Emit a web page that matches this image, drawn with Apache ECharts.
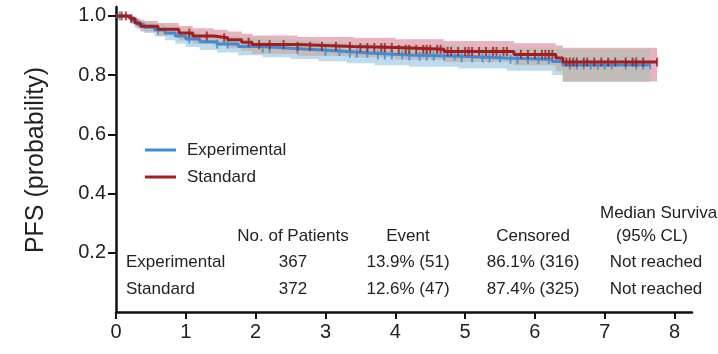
<!DOCTYPE html>
<html>
<head>
<meta charset="utf-8">
<script src="https://cdn.jsdelivr.net/npm/echarts@6/dist/echarts.min.js"></script>
<style>
  html, body { margin: 0; padding: 0; background: #fff; }
  #chart { width: 718px; height: 354px; }
</style>
</head>
<body>
<div id="chart"></div>
<script>
// Kaplan-Meier step points: time (years), survival, 95% CI lower / upper
const expTimes = [0, 0.15, 0.22, 0.30, 0.40, 0.55, 0.70, 0.85, 1.00, 1.20, 1.45, 1.75, 2.10, 2.50, 2.90, 3.30, 3.70, 4.20, 4.90, 5.60, 6.25, 6.40];
const expSurv  = [1.000, 0.995, 0.985, 0.972, 0.962, 0.952, 0.942, 0.932, 0.922, 0.913, 0.905, 0.897, 0.891, 0.886, 0.880, 0.874, 0.868, 0.864, 0.858, 0.853, 0.846, 0.834];
const expLower = [1.000, 0.988, 0.973, 0.955, 0.942, 0.930, 0.918, 0.906, 0.895, 0.885, 0.876, 0.867, 0.860, 0.854, 0.847, 0.840, 0.833, 0.828, 0.822, 0.815, 0.800, 0.778];
const expUpper = [1.000, 1.000, 0.997, 0.988, 0.980, 0.972, 0.964, 0.956, 0.948, 0.940, 0.933, 0.926, 0.921, 0.917, 0.912, 0.907, 0.902, 0.899, 0.894, 0.890, 0.888, 0.886];
const expEnd = 7.65;
const expCensor = [0.05, 0.6, 1.05, 1.45, 1.6, 2.1, 2.2, 2.6, 3.0, 3.2, 3.35, 3.45, 3.6, 3.75, 3.85, 3.95, 4.1, 4.2, 4.35, 4.45, 4.55, 4.7, 4.85, 4.95, 5.1, 5.25, 5.35, 5.5, 5.65, 5.75, 5.9, 6.05, 6.2, 6.5, 6.6, 6.7, 6.8, 6.9, 7.0, 7.1, 7.3, 7.45, 7.55, 7.65];

const stdTimes = [0, 0.20, 0.27, 0.35, 0.60, 0.90, 1.10, 1.40, 1.60, 1.80, 1.95, 2.60, 3.40, 4.00, 4.70, 5.70, 6.30, 6.40];
const stdSurv  = [1.000, 0.991, 0.976, 0.965, 0.955, 0.942, 0.932, 0.926, 0.919, 0.911, 0.903, 0.897, 0.893, 0.887, 0.880, 0.870, 0.858, 0.844];
const stdLower = [1.000, 0.981, 0.961, 0.947, 0.934, 0.918, 0.906, 0.899, 0.891, 0.882, 0.872, 0.865, 0.860, 0.853, 0.845, 0.833, 0.815, 0.778];
const stdUpper = [1.000, 1.000, 0.991, 0.983, 0.976, 0.966, 0.958, 0.953, 0.947, 0.940, 0.934, 0.929, 0.926, 0.921, 0.915, 0.908, 0.900, 0.892];
const stdEnd = 7.75;
const stdCensor = [0.08, 0.14, 0.22, 1.05, 1.3, 1.55, 1.9, 2.05, 2.2, 2.4, 2.6, 2.78, 2.95, 3.15, 3.35, 3.5, 3.6, 3.7, 3.8, 3.85, 3.95, 4.05, 4.15, 4.2, 4.3, 4.4, 4.45, 4.5, 4.6, 4.65, 4.75, 4.8, 4.9, 5.0, 5.05, 5.1, 5.2, 5.3, 5.4, 5.45, 5.55, 5.6, 5.8, 5.9, 6.0, 6.1, 6.15, 6.2, 6.25, 6.45, 6.5, 6.55, 6.6, 6.7, 6.75, 6.85, 6.95, 7.05, 7.15, 7.3, 7.4, 7.45, 7.55, 7.75];

const xTicks = [0, 1, 2, 3, 4, 5, 6, 7, 8];
const yTicks = [0.2, 0.4, 0.6, 0.8, 1.0];

// Summary table
const tableHeaders = ['No. of Patients', 'Event', 'Censored'];
const groupNames = ['Experimental', 'Standard'];
const patients = ['367', '372'];
const events = ['13.9% (51)', '12.6% (47)'];
const censored = ['86.1% (316)', '87.4% (325)'];
const medians = ['Not reached', 'Not reached'];

const BLUE = '#3f8bd6';
const RED = '#a31d1f';
const BLUE_BAND = '#bcdcee';
const RED_BAND = '#e6b3c1';
const OVERLAP = '#c1bcb6';
const FONT = '"Liberation Sans", Arial, Helvetica, sans-serif';

function valueAt(times, vals, t) {
  let v = vals[0];
  for (let i = 0; i < times.length; i++) { if (times[i] <= t) v = vals[i]; }
  return v;
}

function stepLine(times, vals, end) {
  const d = times.map((t, i) => [t, vals[i]]);
  d.push([end, vals[vals.length - 1]]);
  return d;
}

// Overlap of the two confidence bands on the union of breakpoints
const unionTimes = Array.from(new Set(expTimes.concat(stdTimes))).sort((a, b) => a - b);
const ovLower = unionTimes.map(t => Math.max(valueAt(expTimes, expLower, t), valueAt(stdTimes, stdLower, t)));
const ovUpper = unionTimes.map((t, i) => Math.max(ovLower[i], Math.min(valueAt(expTimes, expUpper, t), valueAt(stdTimes, stdUpper, t))));
const ovEnd = Math.min(expEnd, stdEnd);

function bandSeries(times, lower, upper, end, color, z) {
  return {
    type: 'custom',
    coordinateSystem: 'cartesian2d',
    data: [[0, 0]],
    silent: true,
    z: z,
    renderItem: function (params, api) {
      const pts = [];
      for (let i = 0; i < times.length; i++) {
        const next = i + 1 < times.length ? times[i + 1] : end;
        pts.push(api.coord([times[i], upper[i]]));
        pts.push(api.coord([next, upper[i]]));
      }
      for (let i = times.length - 1; i >= 0; i--) {
        const next = i + 1 < times.length ? times[i + 1] : end;
        pts.push(api.coord([next, lower[i]]));
        pts.push(api.coord([times[i], lower[i]]));
      }
      return { type: 'polygon', shape: { points: pts }, style: { fill: color } };
    }
  };
}

function censorSeries(times, vals, list, color) {
  return {
    type: 'scatter',
    data: list.map(t => [t, valueAt(times, vals, t)]),
    symbol: 'rect',
    symbolSize: [2, 9],
    itemStyle: { color: color },
    silent: true,
    z: 5
  };
}

const chart = echarts.init(document.getElementById('chart'), null, { renderer: 'canvas' });

const textStyle = { fontFamily: FONT, fontSize: 17, fill: '#222' };
const graphics = [
  { type: 'text', x: 36, y: 160, rotation: Math.PI / 2, style: Object.assign({}, textStyle, { text: 'PFS (probability)', fontSize: 25, align: 'center', verticalAlign: 'middle' }) },
  { type: 'line', shape: { x1: 145, y1: 150, x2: 176, y2: 150 }, style: { stroke: BLUE, lineWidth: 3 } },
  { type: 'line', shape: { x1: 145, y1: 177, x2: 176, y2: 177 }, style: { stroke: RED, lineWidth: 3 } },
  { type: 'text', x: 187, y: 150, style: Object.assign({}, textStyle, { text: groupNames[0], verticalAlign: 'middle' }) },
  { type: 'text', x: 187, y: 177, style: Object.assign({}, textStyle, { text: groupNames[1], verticalAlign: 'middle' }) },
  { type: 'text', x: 600, y: 213, style: Object.assign({}, textStyle, { text: 'Median Survival', verticalAlign: 'middle' }) },
  { type: 'text', x: 652, y: 236, style: Object.assign({}, textStyle, { text: '(95% CL)', align: 'center', verticalAlign: 'middle' }) }
];
const colX = [293, 408, 533];
tableHeaders.forEach((h, i) => {
  graphics.push({ type: 'text', x: colX[i], y: 236, style: Object.assign({}, textStyle, { text: h, align: 'center', verticalAlign: 'middle' }) });
});
const rowY = [262, 289];
groupNames.forEach((g, r) => {
  graphics.push({ type: 'text', x: 126, y: rowY[r], style: Object.assign({}, textStyle, { text: g, verticalAlign: 'middle' }) });
  graphics.push({ type: 'text', x: colX[0], y: rowY[r], style: Object.assign({}, textStyle, { text: patients[r], align: 'center', verticalAlign: 'middle' }) });
  graphics.push({ type: 'text', x: colX[1], y: rowY[r], style: Object.assign({}, textStyle, { text: events[r], align: 'center', verticalAlign: 'middle' }) });
  graphics.push({ type: 'text', x: colX[2], y: rowY[r], style: Object.assign({}, textStyle, { text: censored[r], align: 'center', verticalAlign: 'middle' }) });
  graphics.push({ type: 'text', x: 656, y: rowY[r], style: Object.assign({}, textStyle, { text: medians[r], align: 'center', verticalAlign: 'middle' }) });
});

chart.setOption({
  animation: false,
  backgroundColor: '#fff',
  grid: { left: 116, right: 26, top: 7, bottom: 42, containLabel: false },
  xAxis: {
    type: 'value', min: 0, max: 8.25,
    splitLine: { show: false },
    axisLine: { lineStyle: { color: '#111', width: 2.5 } },
    axisTick: { show: true, length: 7, lineStyle: { color: '#111', width: 2 }, customValues: xTicks },
    axisLabel: { customValues: xTicks, color: '#222', fontSize: 20, fontFamily: FONT, margin: 10 }
  },
  yAxis: {
    type: 'value', min: 0, max: 1.03,
    splitLine: { show: false },
    axisLine: { show: true, lineStyle: { color: '#111', width: 2.5 } },
    axisTick: { show: true, length: 8, lineStyle: { color: '#111', width: 2 }, customValues: yTicks },
    axisLabel: { customValues: yTicks, color: '#222', fontSize: 20, fontFamily: FONT, margin: 10, formatter: v => v.toFixed(1) }
  },
  series: [
    bandSeries(expTimes, expLower, expUpper, expEnd, BLUE_BAND, 1),
    bandSeries(stdTimes, stdLower, stdUpper, stdEnd, RED_BAND, 2),
    bandSeries(unionTimes, ovLower, ovUpper, ovEnd, OVERLAP, 3),
    { type: 'line', step: 'end', data: stepLine(expTimes, expSurv, expEnd), showSymbol: false, silent: true, z: 4, lineStyle: { color: BLUE, width: 3 } },
    censorSeries(expTimes, expSurv, expCensor, BLUE),
    { type: 'line', step: 'end', data: stepLine(stdTimes, stdSurv, stdEnd), showSymbol: false, silent: true, z: 6, lineStyle: { color: RED, width: 3 } },
    Object.assign(censorSeries(stdTimes, stdSurv, stdCensor, RED), { z: 7 })
  ],
  graphic: graphics
});
</script>
</body>
</html>
